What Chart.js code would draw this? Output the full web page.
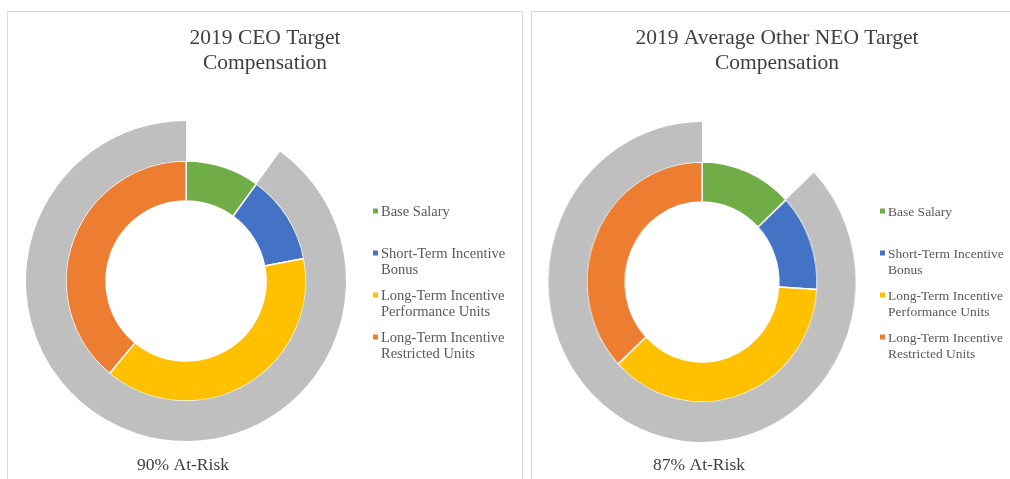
<!DOCTYPE html>
<html>
<head>
<meta charset="utf-8">
<script src="https://cdn.jsdelivr.net/npm/chart.js@4.4.0/dist/chart.umd.min.js"></script>
<style>
  body { margin: 0; width: 1010px; height: 479px; background: #fff; position: relative; overflow: hidden; }
  .panel { position: absolute; top: 11px; height: 490px; border: 1px solid #d9d9d9; box-sizing: border-box; }
  canvas { position: absolute; }
</style>
</head>
<body>
<div class="panel" style="left:7px; width:516px;"></div>
<div class="panel" style="left:531px; width:490px;"></div>
<canvas id="ceoChart" width="330" height="330"></canvas>
<canvas id="neoChart" width="330" height="330"></canvas>
<canvas id="textLayer" width="1010" height="479" style="left:0;top:0;"></canvas>
<script>
const LABELS = ['Base Salary', 'Short-Term Incentive\nBonus', 'Long-Term Incentive\nPerformance Units', 'Long-Term Incentive\nRestricted Units'];
const COLORS = ['#70ad47', '#4472c4', '#ffc000', '#ed7d31'];
const RISK_COLORS = ['rgba(0,0,0,0)', '#bfbfbf'];

const CEO_MIX = [10, 12, 39, 39];
const CEO_RISK = [10, 90];
const NEO_MIX = [13, 13, 37, 37];
const NEO_RISK = [13, 87];

const FONT = '"Liberation Serif", "Times New Roman", serif';

const PANELS = [
  { id: 'ceoChart', title: ['2019 CEO Target', 'Compensation'], mix: CEO_MIX, risk: CEO_RISK,
    cx: 185.5, cy: 281, titleX: 265, legendX: 381, legendSize: 14.5, riskX: 183, scaleX: 1 },
  { id: 'neoChart', title: ['2019 Average Other NEO Target', 'Compensation'], mix: NEO_MIX, risk: NEO_RISK,
    cx: 701.7, cy: 282, titleX: 777, legendX: 888, legendSize: 13.5, riskX: 699, scaleX: 0.96 },
];

function renderText(p, ctx) {
  ctx.textBaseline = 'middle';

  // title, two centred lines
  ctx.fillStyle = '#404040';
  ctx.font = `21.5px ${FONT}`;
  ctx.textAlign = 'center';
  p.title.forEach((line, i) => ctx.fillText(line, p.titleX, 38 + i * 25));

  // legend, one entry every 42px
  ctx.font = `${p.legendSize}px ${FONT}`;
  ctx.textAlign = 'left';
  LABELS.forEach((label, i) => {
    const y = 211 + i * 42;
    ctx.fillStyle = COLORS[i];
    ctx.fillRect(p.legendX - 8, y - 2.5, 5, 5);
    ctx.fillStyle = '#595959';
    label.split('\n').forEach((line, j) => ctx.fillText(line, p.legendX, y + 1 + j * 16.5));
  });

  ctx.fillStyle = '#404040';
  ctx.font = `17.5px ${FONT}`;
  ctx.textAlign = 'center';
  ctx.fillText(`${p.risk[1]}% At-Risk`, p.riskX, 465);
}

function renderChart(p) {
  const canvas = document.getElementById(p.id);
  canvas.style.left = (p.cx - 165) + 'px';
  canvas.style.top = (p.cy - 165) + 'px';
  canvas.style.transform = `scaleX(${p.scaleX})`;

  new Chart(canvas.getContext('2d'), {
    type: 'doughnut',
    data: {
      labels: LABELS,
      datasets: [
        { data: p.risk, backgroundColor: RISK_COLORS, borderWidth: 0, hoverOffset: 0 },
        { data: p.mix, backgroundColor: COLORS, borderColor: '#ffffff', borderWidth: 1.5, hoverOffset: 0 },
      ],
    },
    options: {
      responsive: false,
      animation: false,
      radius: 160,
      cutout: '50%',
      plugins: { legend: { display: false }, tooltip: { enabled: false } },
    },
  });
}

const textCtx = document.getElementById('textLayer').getContext('2d');
for (const p of PANELS) {
  renderChart(p);
  renderText(p, textCtx);
}
</script>
</body>
</html>
